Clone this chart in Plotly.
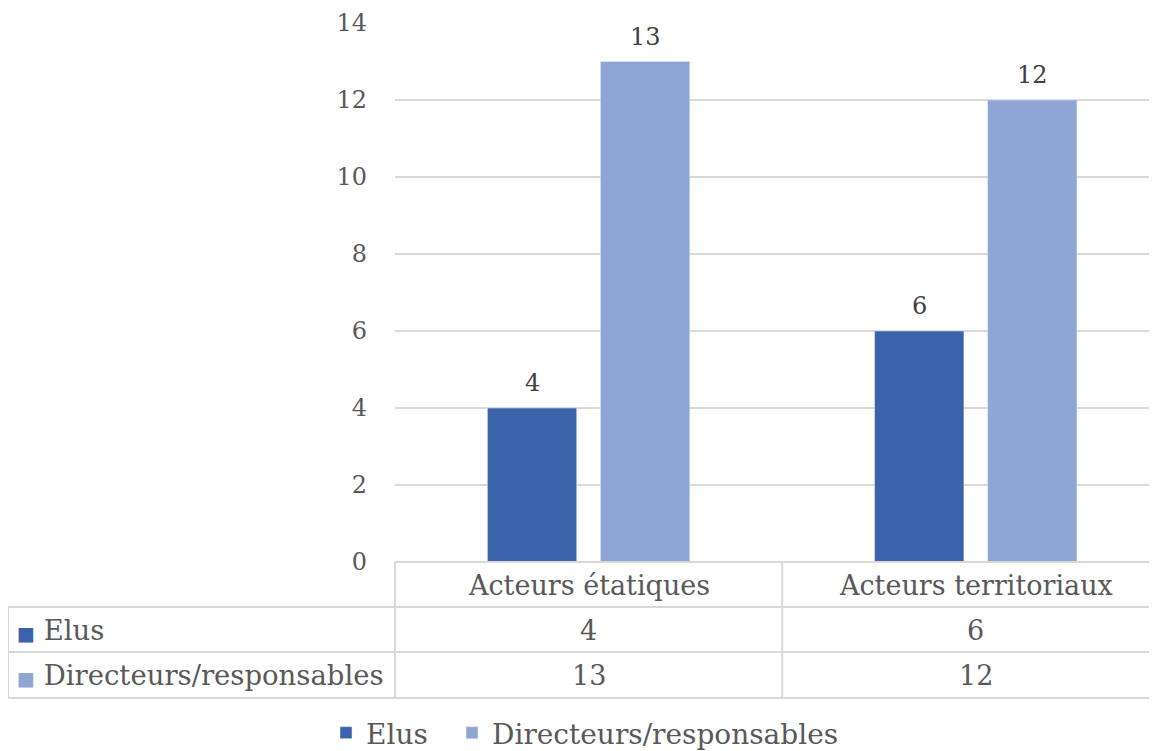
import plotly.graph_objects as go

categories = ["Acteurs étatiques", "Acteurs territoriaux"]
series_names = ["Elus", "Directeurs/responsables"]
elus = [4, 6]
directeurs = [13, 12]
y_ticks = [0, 2, 4, 6, 8, 10, 12, 14]

colors = ["#3A63AB", "#8FA5D5"]
text_color = "#595959"
grid_color = "#D9D9D9"
FONT = "DejaVu Serif"

# the page body has an 8px margin: work in screen pixels and convert
OFF = 8
SW, SH = 1157, 751
W, H = SW - OFF, SH - OFF
L_s, R_s, T_s, B_s = 395, 1150, 23, 562   # plot area edges in screen pixels
L, T = L_s - OFF, T_s - OFF
R = W - (R_s - OFF)
B = H - (B_s - OFF)
plot_h = H - T - B
plot_w = W - L - R
X_RANGE = [-0.5, 1.45]
BARGAP, GROUPGAP = 0.416, 0.21


def py(pix):
    """screen pixel y -> paper y"""
    return (B_s - pix) / plot_h


def px(pix):
    return (pix - L_s) / plot_w


legend_ids = ["legend", "legend2"]
fig = go.Figure()
for name, vals, col, lg in zip(series_names, [elus, directeurs], colors, legend_ids):
    fig.add_trace(go.Bar(x=categories, y=vals, name=name, marker_color=col,
                         legend=lg, showlegend=True))

# data labels above the bars
cat_px = plot_w / (X_RANGE[1] - X_RANGE[0])
slot = cat_px * (1 - BARGAP) / len(series_names)
for i, vals in enumerate([elus, directeurs]):
    shift = (i - (len(series_names) - 1) / 2) * slot
    for c, v in zip(categories, vals):
        fig.add_annotation(x=c, y=v, xref="x", yref="y", text=str(v), showarrow=False,
                           xshift=shift, yshift=25, yanchor="middle",
                           font=dict(family=FONT, size=24, color="#404040"))

# data table text
header_y = py(585)
row_ys = [py(630), py(675)]
for c in categories:
    fig.add_annotation(x=c, y=header_y, xref="x", yref="paper", text=c,
                       showarrow=False, yanchor="middle",
                       font=dict(family=FONT, size=27, color=text_color))
for name, vals, col, ry in zip(series_names, [elus, directeurs], colors, row_ys):
    fig.add_annotation(x=px(15), y=ry, xref="paper", yref="paper",
                       text=f"<span style='color:{col};font-size:19px'>■</span> {name}",
                       showarrow=False, xanchor="left", yanchor="middle",
                       font=dict(family=FONT, size=27.5, color=text_color))
    for c, v in zip(categories, vals):
        fig.add_annotation(x=c, y=ry, xref="x", yref="paper", text=str(v),
                           showarrow=False, yanchor="middle",
                           font=dict(family=FONT, size=27, color=text_color))

# table lines
line = dict(color=grid_color, width=2)
y_top, y1, y2, y3 = py(562), py(607), py(652), py(698)
x_left, x_right = px(8), 1.02
fig.add_shape(type="line", xref="paper", yref="paper", x0=0, x1=x_right, y0=y_top, y1=y_top, line=line)
for yy in (y1, y2, y3):
    fig.add_shape(type="line", xref="paper", yref="paper", x0=x_left, x1=x_right, y0=yy, y1=yy, line=line)
fig.add_shape(type="line", xref="paper", yref="paper", x0=x_left, x1=x_left, y0=y1, y1=y3, line=line)
fig.add_shape(type="line", xref="paper", yref="paper", x0=0, x1=0, y0=y_top, y1=y3, line=line)
fig.add_shape(type="line", xref="x", yref="paper", x0=0.5, x1=0.5, y0=y_top, y1=y3, line=line)


def legend_at(left_px):
    return dict(orientation="h", xref="container", yref="container",
                x=(left_px - OFF) / W, xanchor="left", y=(SH - 733) / H, yanchor="middle",
                font=dict(family=FONT, size=28, color=text_color), itemwidth=30,
                bgcolor="rgba(0,0,0,0)", visible=True)


fig.update_layout(
    width=W, height=H,
    showlegend=True,
    margin=dict(l=L, r=R, t=T, b=B, autoexpand=False),
    plot_bgcolor="white", paper_bgcolor="white",
    barmode="group", bargap=BARGAP, bargroupgap=GROUPGAP,
    font=dict(family=FONT, color=text_color),
    legend=legend_at(326),
    legend2=legend_at(452),
    xaxis=dict(range=X_RANGE, showticklabels=False, showgrid=False,
               zeroline=False, showline=False, ticks=""),
    yaxis=dict(range=[0, 14], tickvals=y_ticks, showgrid=True, gridcolor=grid_color,
               gridwidth=2, zeroline=False, showline=False, ticks="",
               ticklabelstandoff=27,
               tickfont=dict(family=FONT, size=24, color=text_color)),
)

fig.write_html("out.html")
